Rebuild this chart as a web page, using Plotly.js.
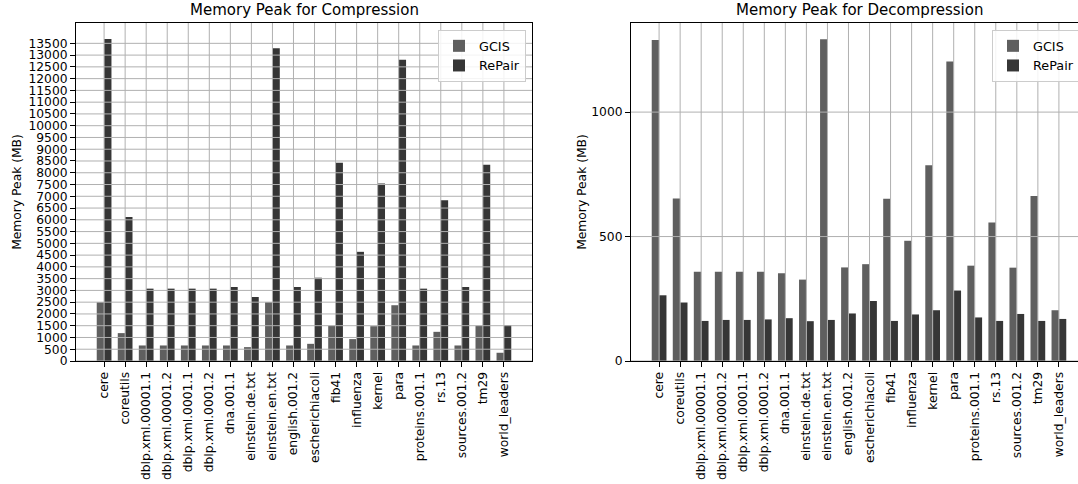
<!DOCTYPE html>
<html>
<head>
<meta charset="utf-8">
<script src="https://cdn.plot.ly/plotly-3.0.1.min.js"></script>
<style>
  html, body { margin: 0; padding: 0; overflow: hidden; background: #fff; }
  #chart { width: 1090px; height: 484px; }
</style>
</head>
<body>
<div id="chart"></div>
<script>
const categories = ['cere','coreutils','dblp.xml.00001.1','dblp.xml.00001.2','dblp.xml.0001.1','dblp.xml.0001.2','dna.001.1','einstein.de.txt','einstein.en.txt','english.001.2','escherichiacoli','fib41','influenza','kernel','para','proteins.001.1','rs.13','sources.001.2','tm29','world_leaders'];

const compGCIS   = [2500,1185,660,660,660,660,660,590,2500,660,730,1500,930,1480,2370,660,1240,660,1500,350];
const compRePair = [13680,6120,3075,3075,3075,3075,3145,2720,13290,3145,3540,8430,4640,7540,12800,3075,6830,3145,8340,1520];

const decompGCIS   = [1290,653,359,359,359,359,353,327,1293,376,389,652,483,786,1203,383,556,375,663,204];
const decompRePair = [264,235,161,165,165,167,172,160,165,191,241,161,187,204,283,175,161,189,161,169];

const compTicks = [0,500,1000,1500,2000,2500,3000,3500,4000,4500,5000,5500,6000,6500,7000,7500,8000,8500,9000,9500,10000,10500,11000,11500,12000,12500,13000,13500];
const decompTicks = [0,500,1000];

const seriesNames = ['GCIS','RePair'];
const colGCIS = '#5f5f5f';
const colRePair = '#363636';

const FONT = 'DejaVu Sans, Liberation Sans, sans-serif';
const gridColor = '#b0b0b0';
const TICK_FS = 12.3;
const TITLE_FS = 15;

const traces = [
  {type:'bar', name:seriesNames[0], x:categories, y:compGCIS, xaxis:'x', yaxis:'y', marker:{color:colGCIS, line:{width:0}}, legend:'legend'},
  {type:'bar', name:seriesNames[1], x:categories, y:compRePair, xaxis:'x', yaxis:'y', marker:{color:colRePair, line:{width:0}}, legend:'legend'},
  {type:'bar', name:seriesNames[0], x:categories, y:decompGCIS, xaxis:'x2', yaxis:'y2', marker:{color:colGCIS, line:{width:0}}, legend:'legend2'},
  {type:'bar', name:seriesNames[1], x:categories, y:decompRePair, xaxis:'x2', yaxis:'y2', marker:{color:colRePair, line:{width:0}}, legend:'legend2'}
];

const W = 1090, H = 484;
const L1 = 76, R1 = 532, L2 = 631, R2 = 1087, T = 23, B = 361;

// grid lines drawn above bars (as in the reference)
const shapes = [];
function addGrid(xr, yr, ticks) {
  ticks.forEach(v => shapes.push({type:'line', layer:'above', xref:xr+' domain', yref:yr, x0:0, x1:1, y0:v, y1:v, line:{color:gridColor, width:1}}));
  categories.forEach(c => shapes.push({type:'line', layer:'above', xref:xr, yref:yr+' domain', x0:c, x1:c, y0:0, y1:1, line:{color:gridColor, width:1}}));
}
addGrid('x','y',compTicks);
addGrid('x2','y2',decompTicks);

const xCommon = {
  type:'category', range:[-1.335, 20.335], showgrid:false, zeroline:false,
  showline:true, mirror:true, linecolor:'#000', linewidth:1,
  ticks:'outside', ticklen:5, tickwidth:1, tickcolor:'#000',
  tickangle:-90, tickfont:{family:FONT, size:TICK_FS, color:'#000'}, fixedrange:true
};
const yCommon = {
  showgrid:false, zeroline:false, showline:true, mirror:true, linecolor:'#000', linewidth:1,
  ticks:'outside', ticklen:5, tickwidth:1, tickcolor:'#000',
  tickfont:{family:FONT, size:TICK_FS, color:'#000'}, tickmode:'array'
};

const layout = {
  width: W, height: H,
  margin:{l:0, r:0, t:0, b:0},
  paper_bgcolor:'#fff', plot_bgcolor:'#fff',
  barmode:'group', bargap:0.3, bargroupgap:0,
  font:{family:FONT, color:'#000'},
  xaxis: Object.assign({}, xCommon, {domain:[L1/W, R1/W], anchor:'y'}),
  yaxis: Object.assign({}, yCommon, {domain:[1-B/H, 1-T/H], anchor:'x', range:[0,14364], tickvals:compTicks, ticktext:compTicks.map(String),
          title:{text:'Memory Peak (MB)', font:{family:FONT, size:TICK_FS, color:'#000'}, standoff:4}}),
  xaxis2: Object.assign({}, xCommon, {domain:[L2/W, R2/W], anchor:'y2'}),
  yaxis2: Object.assign({}, yCommon, {domain:[1-B/H, 1-T/H], anchor:'x2', range:[0,1358], tickvals:decompTicks, ticktext:decompTicks.map(String),
          title:{text:'Memory Peak (MB)', font:{family:FONT, size:TICK_FS, color:'#000'}, standoff:1}}),
  shapes: shapes,
  annotations:[
    {text:'Memory Peak for Compression', xref:'paper', yref:'paper', x:(L1+R1)/2/W, y:1-T/H, xanchor:'center', yanchor:'bottom', yshift:2, showarrow:false, font:{family:FONT, size:TITLE_FS, color:'#000'}},
    {text:'Memory Peak for Decompression', xref:'paper', yref:'paper', x:(L2+R2)/2/W, y:1-T/H, xanchor:'center', yanchor:'bottom', yshift:2, showarrow:false, font:{family:FONT, size:TITLE_FS, color:'#000'}}
  ],
  legend:{x:438/W, y:1-30/H, xanchor:'left', yanchor:'top', bgcolor:'rgba(255,255,255,0.85)', bordercolor:'#cccccc', borderwidth:1, font:{family:FONT, size:TICK_FS+0.5, color:'#000'}, tracegroupgap:0},
  legend2:{x:992/W, y:1-30/H, xanchor:'left', yanchor:'top', bgcolor:'rgba(255,255,255,0.85)', bordercolor:'#cccccc', borderwidth:1, font:{family:FONT, size:TICK_FS+0.5, color:'#000'}, tracegroupgap:0},
  showlegend:true
};

Plotly.newPlot('chart', traces, layout, {displayModeBar:false, staticPlot:true});
</script>
</body>
</html>
